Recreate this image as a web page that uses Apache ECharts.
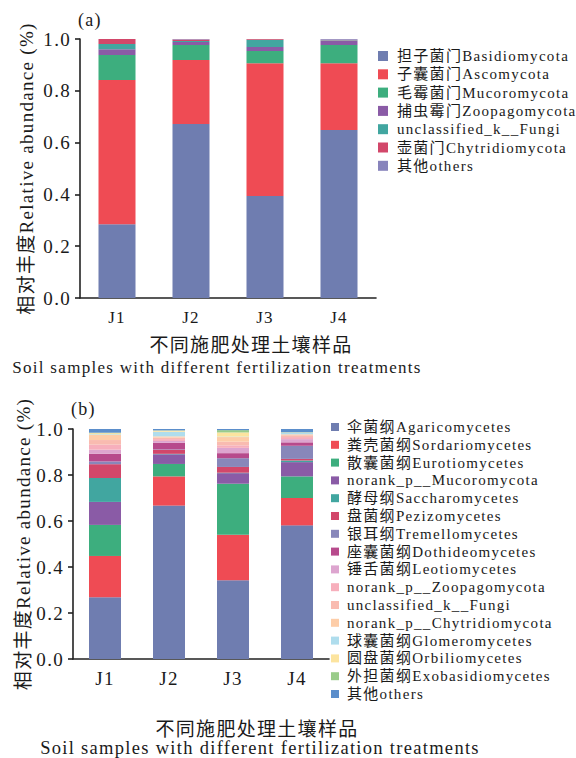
<!DOCTYPE html>
<html>
<head>
<meta charset="utf-8">
<script src="https://cdn.jsdelivr.net/npm/echarts@6/dist/echarts.min.js"></script>
<style>
html,body{margin:0;padding:0;background:#fff;}
#chart{width:576px;height:758px;}
#chart svg text{letter-spacing:1.3px;}
</style>
</head>
<body>
<div id="chart"></div>
<script>
const categories = ['J1', 'J2', 'J3', 'J4'];
const yTicks = [0, 0.2, 0.4, 0.6, 0.8, 1.0];

// (a) phylum level
const phylumNames = ['担子菌门Basidiomycota', '子囊菌门Ascomycota', '毛霉菌门Mucoromycota', '捕虫霉门Zoopagomycota', 'unclassified_k__Fungi', '壶菌门Chytridiomycota', '其他others'];
const phylumColors = ['#6F7DB0', '#EF4B54', '#3DAE7E', '#8A5BA6', '#41A6A0', '#D2476A', '#8884BC'];
const basidiomycota = [0.285, 0.672, 0.394, 0.649];
const ascomycota = [0.557, 0.247, 0.512, 0.257];
const mucoromycota = [0.096, 0.058, 0.048, 0.071];
const zoopagomycota = [0.022, 0.011, 0.015, 0.016];
const unclassifiedFungiA = [0.021, 0.004, 0.028, 0.002];
const chytridiomycota = [0.019, 0.006, 0.003, 0.002];
const othersA = [0.000, 0.002, 0.000, 0.003];
const phylumValues = [basidiomycota, ascomycota, mucoromycota, zoopagomycota, unclassifiedFungiA, chytridiomycota, othersA];

// (b) class level
const classNames = ['伞菌纲Agaricomycetes', '粪壳菌纲Sordariomycetes', '散囊菌纲Eurotiomycetes', 'norank_p__Mucoromycota', '酵母纲Saccharomycetes', '盘菌纲Pezizomycetes', '银耳纲Tremellomycetes', '座囊菌纲Dothideomycetes', '锤舌菌纲Leotiomycetes', 'norank_p__Zoopagomycota', 'unclassified_k__Fungi', 'norank_p__Chytridiomycota', '球囊菌纲Glomeromycetes', '圆盘菌纲Orbiliomycetes', '外担菌纲Exobasidiomycetes', '其他others'];
const classColors = ['#6F7DB0', '#EF4B54', '#3DAE7E', '#8A5BA6', '#41A6A0', '#D2476A', '#8887BA', '#B74A8C', '#DDA5CF', '#F7AFBC', '#F9BBB0', '#FDCDA8', '#AFDDED', '#FCE49F', '#9ACC8A', '#5B8ECB'];
const agaricomycetes = [0.268, 0.667, 0.342, 0.581];
const sordariomycetes = [0.180, 0.127, 0.198, 0.119];
const eurotiomycetes = [0.135, 0.054, 0.222, 0.094];
const norankMucoromycota = [0.100, 0.042, 0.046, 0.062];
const saccharomycetes = [0.104, 0.002, 0.002, 0.007];
const pezizomycetes = [0.060, 0.017, 0.025, 0.007];
const tremellomycetes = [0.012, 0.002, 0.038, 0.057];
const dothideomycetes = [0.033, 0.029, 0.022, 0.015];
const leotiomycetes = [0.018, 0.008, 0.023, 0.014];
const norankZoopagomycota = [0.022, 0.008, 0.011, 0.009];
const unclassifiedFungiB = [0.020, 0.007, 0.016, 0.008];
const norankChytridiomycota = [0.022, 0.005, 0.020, 0.004];
const glomeromycetes = [0.003, 0.020, 0.002, 0.007];
const orbiliomycetes = [0.005, 0.005, 0.018, 0.001];
const exobasidiomycetes = [0.002, 0.001, 0.010, 0.001];
const othersB = [0.016, 0.006, 0.005, 0.014];
const classValues = [agaricomycetes, sordariomycetes, eurotiomycetes, norankMucoromycota, saccharomycetes, pezizomycetes, tremellomycetes, dothideomycetes, leotiomycetes, norankZoopagomycota, unclassifiedFungiB, norankChytridiomycota, glomeromycetes, orbiliomycetes, exobasidiomycetes, othersB];

const yName = '相对丰度Relative abundance (%)';
const xNameCn = '不同施肥处理土壤样品';
const xNameEn = 'Soil samples with different fertilization treatments';

const FONT = "'Liberation Serif', 'Noto Sans CJK SC', serif";
const INK = '#1a1a1a';

function xAxisCfg(gridIndex, fontSize, margin) {
  return {
    type: 'category', gridIndex, data: categories,
    axisLine: { lineStyle: { color: '#222', width: 1.6 } },
    axisTick: { alignWithLabel: true, length: 5, lineStyle: { color: '#222', width: 1.6 } },
    axisLabel: { color: INK, fontFamily: FONT, fontSize, margin }
  };
}
function yAxisCfg(gridIndex, nameGap) {
  return {
    type: 'value', gridIndex, min: 0, max: 1, interval: 0.2,
    name: yName, nameLocation: 'middle', nameRotate: 90, nameGap,
    nameTextStyle: { color: INK, fontFamily: FONT, fontSize: 19 },
    axisLine: { show: true, lineStyle: { color: '#222', width: 1.6 } },
    axisTick: { show: true, length: 5, lineStyle: { color: '#222', width: 1.6 } },
    splitLine: { show: false },
    axisLabel: { color: INK, fontFamily: FONT, fontSize: 19, margin: 9, formatter: v => v.toFixed(1) }
  };
}

const series = [];
phylumNames.forEach((n, i) => {
  series.push({ name: n, type: 'bar', stack: 'a', xAxisIndex: 0, yAxisIndex: 0, barWidth: '50%',
    itemStyle: { color: phylumColors[i] }, data: phylumValues[i] });
});
classNames.forEach((n, i) => {
  series.push({ name: n, type: 'bar', stack: 'b', xAxisIndex: 1, yAxisIndex: 1, barWidth: '50%',
    itemStyle: { color: classColors[i] }, data: classValues[i] });
});

const chart = echarts.init(document.getElementById('chart'), null, { renderer: 'svg' });
chart.setOption({
  animation: false,
  backgroundColor: '#fff',
  grid: [
    { left: 80, top: 39, width: 296, height: 259 },
    { left: 73, top: 429, width: 256, height: 230 }
  ],
  xAxis: [xAxisCfg(0, 17, 11), xAxisCfg(1, 19, 10)],
  yAxis: [yAxisCfg(0, 42), yAxisCfg(1, 40)],
  legend: [
    { orient: 'vertical', left: 373, top: 43, itemWidth: 10, itemHeight: 10, itemGap: 2.3,
      icon: 'rect', selectedMode: false,
      textStyle: { color: INK, fontFamily: FONT, fontSize: 15, lineHeight: 16, padding: [0, 0, 0, 4] },
      data: phylumNames.map((n, i) => ({ name: n, itemStyle: { color: phylumColors[i] } })) },
    { orient: 'vertical', left: 326, top: 414, itemWidth: 8, itemHeight: 8, itemGap: 1.8,
      icon: 'rect', selectedMode: false,
      textStyle: { color: INK, fontFamily: FONT, fontSize: 15, lineHeight: 16, padding: [0, 0, 0, 3] },
      data: classNames.map((n, i) => ({ name: n, itemStyle: { color: classColors[i] } })) }
  ],
  graphic: [
    { type: 'text', left: 78, top: 11, style: { text: '(a)', font: "18px " + FONT, fill: INK } },
    { type: 'text', left: 71, top: 400, style: { text: '(b)', font: "18px " + FONT, fill: INK } },
    { type: 'text', x: 251, y: 345, style: { text: xNameCn, font: "19px " + FONT, fill: INK, textAlign: 'center', textVerticalAlign: 'middle' } },
    { type: 'text', x: 217, y: 367, style: { text: xNameEn, font: "17px " + FONT, fill: INK, textAlign: 'center', textVerticalAlign: 'middle' } },
    { type: 'text', x: 257, y: 729, style: { text: xNameCn, font: "19px " + FONT, fill: INK, textAlign: 'center', textVerticalAlign: 'middle' } },
    { type: 'text', x: 260, y: 748, style: { text: xNameEn, font: "18.5px " + FONT, fill: INK, textAlign: 'center', textVerticalAlign: 'middle' } }
  ],
  series
});
</script>
</body>
</html>
